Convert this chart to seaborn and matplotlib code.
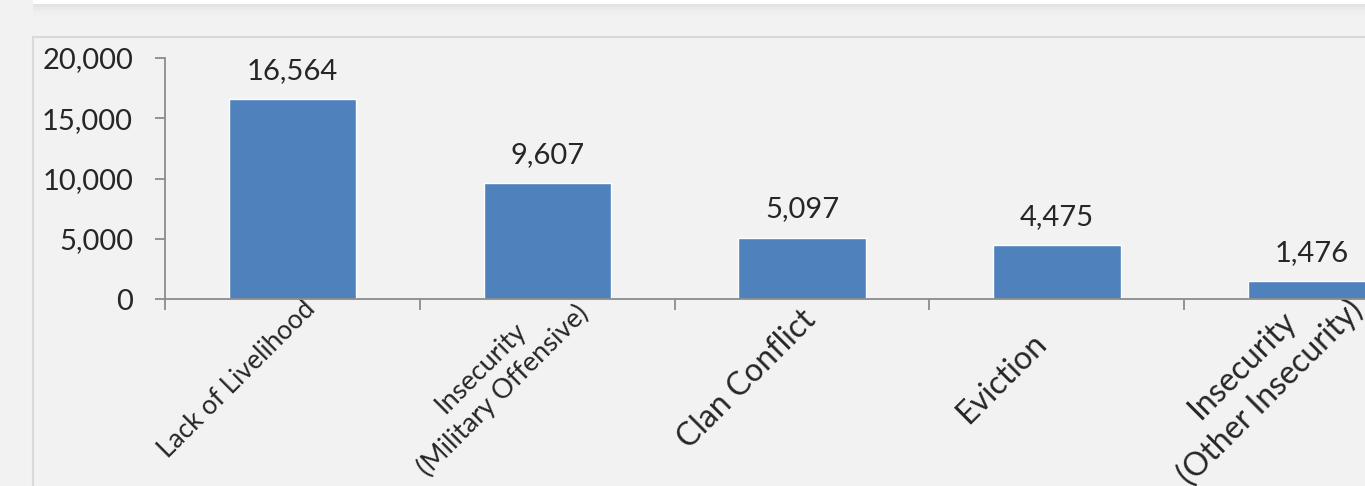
import matplotlib
matplotlib.use("Agg")
import matplotlib.pyplot as plt
import matplotlib.patches as mpatches
import matplotlib.transforms as mtransforms
import seaborn as sns

# data
categories = [
    "Lack of Livelihood",
    "Insecurity\n(Military Offensive)",
    "Clan Conflict",
    "Eviction",
    "Insecurity\n(Other Insecurity)",
]
values = [16564, 9607, 5097, 4475, 1476]
label_sizes = [19, 19.5, 23, 23, 23]
yticks = [0, 5000, 10000, 15000, 20000]

bar_color = "#4f81bd"
bg = "#f2f2f2"
axis_gray = "#8c8c8c"

sns.set_style("white")
plt.rcParams["font.family"] = ["Lato", "DejaVu Sans"]

W, H = 1365, 486
fig = plt.figure(figsize=(W / 100, H / 100), dpi=100)
fig.patch.set_facecolor(bg)

# outer chart frame and the white panel strip at the very top
fig.patches.append(mpatches.Rectangle((33 / W, -0.1), 1.2, (H - 37) / H + 0.1,
                                      transform=fig.transFigure, facecolor=bg,
                                      edgecolor="#d9d9d9", linewidth=1.5, zorder=0))
for i, c in enumerate(["#e4e4e4", "#e9e9e9", "#eeeeee", "#f0f0f0"]):
    fig.patches.append(mpatches.Rectangle((33 / W, (H - 4 - 3 * (i + 1)) / H), 1.2, 3 / H,
                                          transform=fig.transFigure, facecolor=c,
                                          edgecolor="none", zorder=0))
fig.patches.append(mpatches.Rectangle((33 / W, (H - 4) / H), 1.2, 4 / H,
                                      transform=fig.transFigure, facecolor="white",
                                      edgecolor="none", zorder=1))

# axes: x from -0.5 to 4.5 maps 165px..1439px (right side cut off by the figure edge)
left, right = 165, 1439
y0, y20 = 299, 58
ax = fig.add_axes([left / W, (H - y0) / H, (right - left) / W, (y0 - y20) / H])
ax.set_zorder(5)
ax.set_facecolor("none")

sns.barplot(x=categories, y=values, color=bar_color, width=0.5, saturation=1,
            ax=ax, zorder=2)

ax.set_xlim(-0.5, 4.5)
ax.set_ylim(0, 20000)
ax.set_yticks(yticks)
ax.set_yticklabels([f"{v:,}" for v in yticks], fontsize=21)
ax.set_xlabel("")
ax.set_ylabel("")

for s in ["top", "right"]:
    ax.spines[s].set_visible(False)
for s in ["left", "bottom"]:
    ax.spines[s].set_color(axis_gray)
    ax.spines[s].set_linewidth(1.3)

ax.tick_params(axis="y", direction="out", length=7, width=1.3, color=axis_gray,
               pad=16, left=True)
# category boundary tick marks
ax.set_xticks([i - 0.5 for i in range(len(categories) + 1)], minor=True)
ax.tick_params(axis="x", which="minor", direction="out", length=8, width=1.3,
               color=axis_gray, bottom=True)
ax.tick_params(axis="x", which="major", length=0, pad=0)

# Excel centres rotated labels in a wrap box, so anchor on the label centre
shift = mtransforms.ScaledTranslation(-55 / 100, -80 / 100, fig.dpi_scale_trans)
for lbl, size in zip(ax.get_xticklabels(), label_sizes):
    lbl.set_rotation(45)
    lbl.set_rotation_mode("anchor")
    lbl.set_ha("center")
    lbl.set_va("center")
    lbl.set_multialignment("center")
    lbl.set_linespacing(1.3)
    lbl.set_fontsize(size)
    lbl.set_transform(lbl.get_transform() + shift)

# value labels above bars
for i, v in enumerate(values):
    ax.annotate(f"{v:,}", (i, v), xytext=(0, 11), textcoords="offset points",
                ha="center", va="bottom", fontsize=21, annotation_clip=False)

fig.savefig("out.png", dpi=100, facecolor=bg)
